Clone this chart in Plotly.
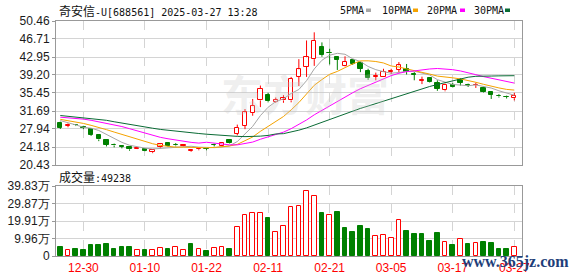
import plotly.graph_objects as go
import numpy as np
import pandas as pd

# ---------------- data ----------------
dates = ["12-25","12-26","12-27","12-30","12-31","01-02","01-03","01-06","01-07","01-08",
         "01-09","01-10","01-13","01-14","01-15","01-16","01-17","01-20","01-21","01-22",
         "01-23","01-24","01-27","02-05","02-06","02-07","02-10","02-11","02-12","02-13",
         "02-14","02-17","02-18","02-19","02-20","02-21","02-24","02-25","02-26","02-27",
         "02-28","03-03","03-04","03-05","03-06","03-07","03-10","03-11","03-12","03-13",
         "03-14","03-17","03-18","03-19","03-20","03-21","03-24","03-25","03-26","03-27"]

open_ = [29.26,28.55,28.80,28.40,27.90,26.70,25.60,24.60,24.30,24.10,
         23.80,23.80,23.10,24.10,25.00,24.60,24.45,23.40,23.70,23.85,
         24.70,24.45,25.55,27.00,28.60,31.25,33.90,35.10,33.65,33.90,
         33.90,38.85,40.95,42.50,45.00,43.80,43.05,41.10,42.28,41.79,
         40.10,38.85,38.84,39.85,40.25,40.50,39.35,38.00,38.55,37.60,
         36.00,37.15,38.10,37.05,37.10,36.58,35.74,34.85,34.70,34.35]
high  = [29.47,29.10,28.90,28.60,28.10,26.80,25.80,24.90,24.60,24.10,
         23.95,23.90,23.70,24.80,25.10,25.00,24.60,23.60,24.00,24.00,
         24.90,25.20,25.70,28.85,32.10,34.20,37.00,35.50,34.50,35.00,
         38.80,42.50,46.40,48.10,46.00,44.70,43.10,43.10,42.50,42.00,
         40.50,39.70,40.50,40.50,41.90,41.50,39.80,38.85,38.60,38.10,
         37.40,37.55,38.55,37.40,37.60,36.80,35.74,35.20,34.90,35.50]
low   = [27.93,28.30,28.55,27.90,26.50,25.40,24.30,24.10,23.90,23.40,
         23.75,23.30,22.90,23.90,24.20,24.30,24.30,23.20,23.50,23.50,
         24.30,24.35,24.90,26.60,27.90,30.70,32.50,33.50,33.40,33.40,
         33.50,36.90,38.80,41.10,43.00,41.40,40.25,41.00,41.30,39.80,
         38.20,38.10,38.80,39.40,39.80,39.30,38.10,37.30,37.60,35.90,
         35.80,36.60,37.00,36.70,36.50,35.50,34.20,34.50,34.30,33.90]
close = [28.14,28.75,28.70,28.25,26.70,25.75,24.60,24.50,24.20,23.70,
         23.90,23.40,23.65,24.75,24.35,24.50,24.55,23.55,23.80,23.75,
         24.60,25.10,25.00,28.15,31.40,32.80,36.30,33.70,34.05,34.30,
         38.40,40.40,42.90,46.30,43.35,43.70,42.35,41.90,41.58,40.52,
         38.55,39.00,39.81,40.00,41.20,39.80,39.20,38.15,37.70,36.30,
         37.15,36.75,37.60,37.00,37.15,35.60,35.05,34.75,34.60,34.90]

# volume, in 万
volume = [5.2,3.3,4.1,3.5,6.4,6.4,7.0,4.1,5.2,5.2,
          3.3,3.5,3.3,4.4,4.1,5.0,3.3,7.0,3.9,2.9,
          4.4,5.0,4.1,16.6,23.6,24.7,24.7,21.5,13.7,17.2,
          27.6,28.2,36.9,34.2,24.4,23.6,24.9,15.7,13.9,16.8,
          15.1,11.4,12.0,10.2,20.7,14.5,12.4,12.4,8.7,13.0,
          7.9,6.4,9.7,6.6,7.3,8.1,7.5,4.1,4.1,4.92]

# moving-average values at the start of the window (read from the chart,
# their earlier trading days are not shown)
ma5_head = [29.7, 29.3, 28.8, 28.3]
ma10_head = [29.95, 29.7, 29.4, 29.1, 28.7, 28.3, 27.8, 27.3, 26.8]
ma20_head = [30.4, 30.3, 30.15, 30.0, 29.75, 29.45, 29.1, 28.8, 28.45, 28.0,
             27.55, 27.1, 26.6, 26.2, 25.9, 25.6, 25.35, 25.15, 25.0]
ma30_head = [30.75, 30.6, 30.45, 30.35, 30.2, 30.0, 29.75, 29.45, 29.15, 28.85,
             28.6, 28.35, 28.1, 27.85, 27.65, 27.5, 27.35, 27.2, 27.0, 26.85,
             26.7, 26.55, 26.45, 26.4, 26.35, 26.35, 26.45, 26.6, 26.9]

price_ticks = [20.43, 24.18, 27.94, 31.69, 35.45, 39.20, 42.95, 46.71, 50.46]
vol_ticks = [0, 9.96, 19.91, 29.87, 39.83]
vol_tick_text = ["0", "9.96万", "19.91万", "29.87万", "39.83万"]
date_ticks = ["12-30", "01-10", "01-22", "02-11", "02-21", "03-05", "03-17", "03-27"]

title_name = "奇安信"
title_rest = "-U[688561] 2025-03-27 13:28"
vol_label = "成交量"
last_vol = "49238"

# ---------------- derived ----------------
n = len(close)
x = np.arange(n)
o = np.array(open_); h = np.array(high); l = np.array(low); c = np.array(close)
up = c >= o

def ma(period, head):
    s = pd.Series(c).rolling(period).mean().to_numpy()
    s[:period - 1] = head
    return s

RED = "#ff0000"
GREEN = "#008000"

body_base = np.minimum(o, c)
body_h = np.maximum(np.abs(c - o), 0.07)

fig = go.Figure()

def wick_xy(mask):
    xs, ys = [], []
    for i in range(n):
        if mask[i]:
            top = max(o[i], c[i]); bot = min(o[i], c[i])
            xs += [i, i, None, i, i, None]
            ys += [h[i], top, None, bot, l[i], None]
    return xs, ys

for mask, col in [(up, RED), (~up, GREEN)]:
    wx, wy = wick_xy(mask)
    fig.add_trace(go.Scatter(x=wx, y=wy, mode="lines", line=dict(color=col, width=1),
                             xaxis="x2", yaxis="y2", hoverinfo="skip", showlegend=False))

fig.add_trace(go.Bar(x=x, y=body_h, base=body_base, width=0.56,
                     marker=dict(color=["#ffffff" if u else GREEN for u in up],
                                 line=dict(color=[RED if u else GREEN for u in up], width=1)),
                     xaxis="x2", yaxis="y2", showlegend=False))

ma_defs = [(5, ma5_head, "#a6a6a6"), (10, ma10_head, "#f5a300"),
           (20, ma20_head, "#ff00ff"), (30, ma30_head, "#0a6b35")]
for period, head, col in ma_defs:
    fig.add_trace(go.Scatter(x=x, y=ma(period, head), mode="lines",
                             line=dict(color=col, width=1), xaxis="x2", yaxis="y2",
                             hoverinfo="skip", showlegend=False))

prev = np.concatenate([[o[0]], c[:-1]])
vol_up = c > prev
fig.add_trace(go.Bar(x=x, y=volume, width=0.6,
                     marker=dict(color=["#ffffff" if u else GREEN for u in vol_up],
                                 line=dict(color=[RED if u else GREEN for u in vol_up], width=1)),
                     xaxis="x", yaxis="y", showlegend=False))

tick_idx = [dates.index(d) for d in date_ticks]

W, H = 578, 276
ML, MR, MT, MB = 56, 56, 21, 20
ph = H - MT - MB
main_bottom = (H - MB - 165) / ph
vol_top = (H - MB - 186) / ph

xr = [-0.56, n - 0.0]
grid = "#d4d4d4"
axis_line = "#999999"
tickfont = dict(family="Liberation Sans, Arial, sans-serif", size=12, color="#1a1a1a")

fig.update_layout(
    width=W, height=H, margin=dict(l=ML, r=MR, t=MT, b=MB, autoexpand=False),
    paper_bgcolor="white", plot_bgcolor="white", bargap=0,
    xaxis=dict(domain=[0, 1], range=xr, tickvals=tick_idx, ticktext=date_ticks,
               tickfont=dict(family="Liberation Sans, Arial, sans-serif", size=12, color=RED),
               showgrid=True, gridcolor=grid, griddash="dash", gridwidth=1,
               showline=True, mirror=True, linecolor=axis_line, ticks="", zeroline=False,
               anchor="y", automargin=False, ticklabelstandoff=1),
    yaxis=dict(domain=[0, vol_top], range=[0, 39.83], tickvals=vol_ticks, ticktext=vol_tick_text,
               tickfont=tickfont, showgrid=True, gridcolor=grid, gridwidth=1,
               showline=True, mirror=True, linecolor=axis_line, ticks="outside", ticklen=3,
               tickcolor=axis_line, zeroline=False, anchor="x", automargin=False),
    xaxis2=dict(domain=[0, 1], range=xr, tickvals=tick_idx, showticklabels=False,
                showgrid=True, gridcolor=grid, griddash="dash", gridwidth=1,
                showline=True, mirror=True, linecolor=axis_line, ticks="", zeroline=False,
                anchor="y2", automargin=False),
    yaxis2=dict(domain=[main_bottom, 1], range=[20.43, 50.46], tickvals=price_ticks,
                ticktext=[f"{v:.2f}" for v in price_ticks],
                tickfont=tickfont, showgrid=True, gridcolor=grid, gridwidth=1,
                showline=True, mirror=True, linecolor=axis_line, ticks="outside", ticklen=3,
                tickcolor=axis_line, zeroline=False, anchor="x2", automargin=False),
)

def px_x(p):
    return (p - ML) / (W - ML - MR)

def px_y(p):
    return (H - MB - p) / ph

mono = "DejaVu Sans Mono, Liberation Mono, monospace"
cjk = "Noto Sans CJK SC"

annotations = [
    dict(x=px_x(57), y=px_y(10), xref="paper", yref="paper", xanchor="left", yanchor="middle",
         showarrow=False, font=dict(family=mono, size=10, color="#111"),
         text=f'<span style="font-family:{cjk};font-size:12px">{title_name}</span>{title_rest}'),
    dict(x=px_x(57), y=px_y(176), xref="paper", yref="paper", xanchor="left", yanchor="middle",
         showarrow=False, font=dict(family=mono, size=10, color="#111"),
         text=f'<span style="font-family:{cjk};font-size:12px">{vol_label}</span>:{last_vol}'),
    dict(x=px_x(305), y=px_y(92), xref="paper", yref="paper", xanchor="center", yanchor="middle",
         showarrow=False, font=dict(family=cjk, size=42, color="rgba(200,200,200,0.3)"),
         text="<b>东方财富</b>"),
    dict(x=px_x(571), y=px_y(262), xref="paper", yref="paper", xanchor="right", yanchor="middle",
         showarrow=False, font=dict(family="Liberation Serif, serif", size=16, color="#1f3f7a"),
         text="<b>www.365jz.com</b>"),
]
legend_items = [("5PMA", 338, 366, "#a6a6a6"), ("10PMA", 380, 413, "#f5a300"),
                ("20PMA", 425, 460, "#ff00ff"), ("30PMA", 472, 505, "#0a6b35")]
for label, tx, sx, col in legend_items:
    annotations.append(dict(x=px_x(tx), y=px_y(10), xref="paper", yref="paper",
                            xanchor="left", yanchor="middle", showarrow=False,
                            font=dict(family=mono, size=10, color="#111"), text=label))
fig.update_layout(annotations=annotations)
shapes = []
for label, tx, sx, col in legend_items:
    shapes.append(dict(type="rect", xref="paper", yref="paper",
                       x0=px_x(sx), x1=px_x(sx + 5), y0=px_y(12), y1=px_y(8.5),
                       fillcolor=col, line=dict(width=0)))
fig.update_layout(shapes=shapes)

fig.write_html("out.html")
